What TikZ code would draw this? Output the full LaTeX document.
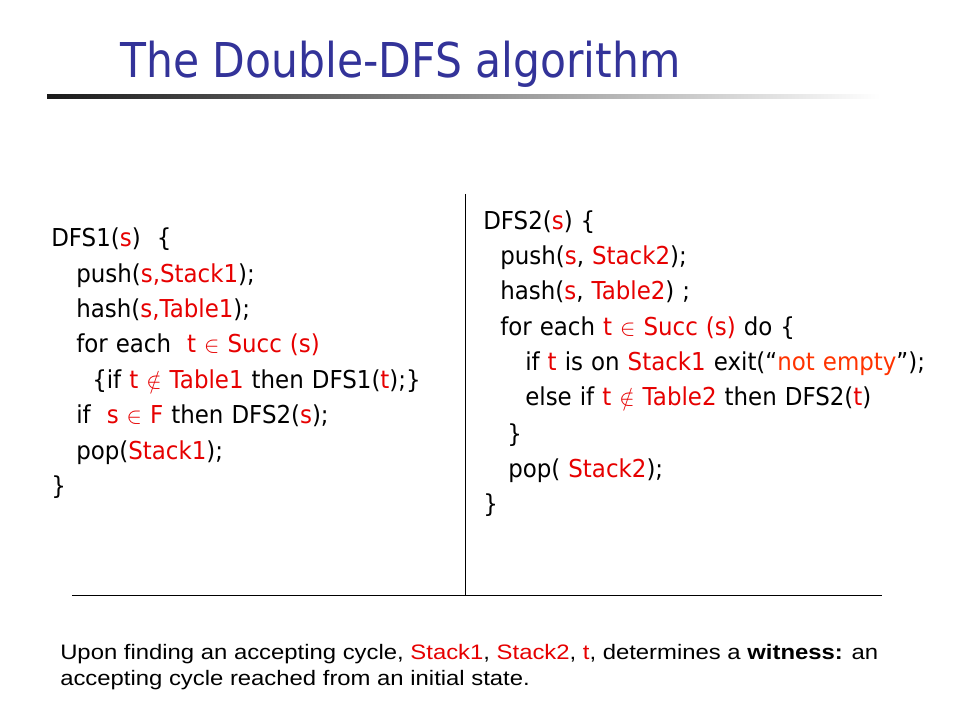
\documentclass[tikz,border=0pt]{standalone}
\usepackage{fontspec}
\setmainfont[FakeStretch=0.93,WordSpace=1.1]{DejaVu Sans}
\newfontfamily\titlefont[FakeStretch=0.885]{DejaVu Sans}
\newfontfamily\notefont[FakeStretch=1.14]{Liberation Sans}
\usepackage{xcolor}
\definecolor{titleblue}{RGB}{51,51,153}
\definecolor{codered}{RGB}{230,0,0}
\definecolor{msgred}{RGB}{255,51,0}
\newcommand{\rd}[1]{\textcolor{codered}{#1}}
\tikzset{heading/.style={anchor=base west, inner sep=0pt, text=titleblue, font=\titlefont\fontsize{36}{40}\selectfont},
code/.style={anchor=base west, inner sep=0pt, font=\fontsize{18.5}{22}\selectfont},
note/.style={anchor=base west, inner sep=0pt, align=left, font=\notefont\fontsize{15.7}{19.5}\selectfont}}

\begin{document}
\begin{tikzpicture}[x=0.75pt,y=-0.75pt]
\useasboundingbox (0,0) rectangle (960,720);
\node[heading] (title) at (120,78) {The Double-DFS algorithm};
\shade[left color=black!90, right color=white] (47,95) rectangle (880,99);
% first search
\node[code] (a1) at (51,247) {DFS1(\rd{s})\ \ \{};
\node[code] (a2) at (76,282) {push(\rd{s,Stack1});};
\node[code] (a3) at (76,317) {hash(\rd{s,Table1});};
\node[code] (a4) at (76,352) {for each\ \ \rd{t $\in$ Succ (s)}};
\node[code] (a5) at (92,388) {\{if \rd{t $\notin$ Table1} then DFS1(\rd{t});\}};
\node[code] (a6) at (76,423) {if\ \ \rd{s $\in$ F} then DFS2(\rd{s});};
\node[code] (a7) at (76,459) {pop(\rd{Stack1});};
\node[code] (a8) at (51,494) {\}};
% second search
\node[code] (b1) at (483,230) {DFS2(\rd{s}) \{};
\node[code] (b2) at (500,265) {push(\rd{s}, \rd{Stack2});};
\node[code] (b3) at (500,300) {hash(\rd{s}, \rd{Table2}) ;};
\node[code] (b4) at (500,335) {for each \rd{t $\in$ Succ (s)} do \{};
\node[code] (b5) at (525,370) {if \rd{t} is on \rd{Stack1} exit(“\textcolor{msgred}{not empty}”);};
\node[code] (b6) at (525,405) {else if \rd{t $\notin$ Table2} then DFS2(\rd{t})};
\node[code] (b7) at (507,442) {\}};
\node[code] (b8) at (508,477) {pop( \rd{Stack2});};
\node[code] (b9) at (483,512) {\}};
% frame lines
\coordinate (vtop) at (465,194);
\coordinate (vbot) at (465,595);
\coordinate (hl) at (72,595);
\coordinate (hr) at (882,595);
\draw (vtop)--(vbot) (hl)--(hr);
\node[note] (remark) at (60,685) {Upon finding an accepting cycle, \rd{Stack1}, \rd{Stack2}, \rd{t}, determines a \textbf{witness:} an\\accepting cycle reached from an initial state.};
\end{tikzpicture}
\end{document}
